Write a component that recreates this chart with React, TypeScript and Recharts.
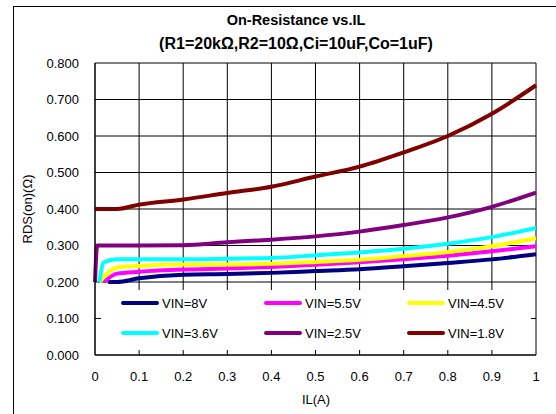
import { LineChart, Line, XAxis, YAxis, CartesianGrid, Legend } from 'recharts';

// load current IL (A) and on-resistance (ohm) per input voltage
const IL = [0, 0.005, 0.01, 0.02, 0.03, 0.05, 0.1, 0.2, 0.3, 0.4, 0.5, 0.6, 0.7, 0.8, 0.9, 1];
const VIN_8 = [null, null, null, null, 0.2, 0.2, 0.21, 0.22, 0.222, 0.225, 0.23, 0.235, 0.243, 0.252, 0.262, 0.276];
const VIN_5_5 = [null, null, null, 0.2, null, 0.223, 0.228, 0.234, 0.237, 0.241, 0.247, 0.254, 0.262, 0.272, 0.284, 0.298];
const VIN_4_5 = [null, null, 0.2, null, null, 0.24, 0.244, 0.248, 0.248, 0.25, 0.255, 0.261, 0.271, 0.282, 0.298, 0.32];
const VIN_3_6 = [null, null, 0.2, 0.254, null, 0.262, 0.262, 0.262, 0.264, 0.266, 0.273, 0.281, 0.291, 0.305, 0.323, 0.348];
const VIN_2_5 = [0.2, 0.3, null, null, null, 0.3, 0.3, 0.301, 0.309, 0.316, 0.325, 0.338, 0.356, 0.377, 0.406, 0.445];
const VIN_1_8 = [0.4, null, null, null, null, 0.4, 0.412, 0.426, 0.444, 0.461, 0.489, 0.516, 0.555, 0.6, 0.661, 0.739];

const X_TICKS = [0, 0.1, 0.2, 0.3, 0.4, 0.5, 0.6, 0.7, 0.8, 0.9, 1];
const Y_TICKS = [0, 0.1, 0.2, 0.3, 0.4, 0.5, 0.6, 0.7, 0.8];

const SERIES = [
  { key: 'v8', name: 'VIN=8V', color: '#000080', values: VIN_8 },
  { key: 'v55', name: 'VIN=5.5V', color: '#FF00FF', values: VIN_5_5 },
  { key: 'v45', name: 'VIN=4.5V', color: '#FFFF00', values: VIN_4_5 },
  { key: 'v36', name: 'VIN=3.6V', color: '#00FFFF', values: VIN_3_6 },
  { key: 'v25', name: 'VIN=2.5V', color: '#800080', values: VIN_2_5 },
  { key: 'v18', name: 'VIN=1.8V', color: '#800000', values: VIN_1_8 },
];

const data = IL.map((il, i) => {
  const row: Record<string, number | null> = { il };
  SERIES.forEach(s => { row[s.key] = s.values[i]; });
  return row;
});

const FONT = '"Liberation Sans", Arial, sans-serif';

function LegendBox() {
  const cols = [20, 163, 306];
  return (
    <div style={{ position: 'relative', width: 430, height: 60, background: '#fff', fontFamily: FONT, fontSize: 13 }}>
      {SERIES.map((s, i) => (
        <div key={s.key} style={{
          position: 'absolute', left: cols[i % 3], top: i < 3 ? 4 : 34,
          display: 'flex', alignItems: 'center', height: 18,
        }}>
          <span style={{ display: 'inline-block', width: 38, height: 4, background: s.color, borderRadius: 2 }} />
          <span style={{ marginLeft: 3, color: '#000' }}>{s.name}</span>
        </div>
      ))}
    </div>
  );
}

export default function App() {
  return (
    <div style={{ position: 'absolute', left: 0, top: 0, width: 556, height: 414, overflow: 'hidden', background: '#fff', fontFamily: FONT }}>
      <div style={{ position: 'absolute', left: 13, top: 6, width: 700, height: 600, border: '1px solid #000' }} />
      <div style={{ position: 'absolute', left: 96, width: 400, top: 11, textAlign: 'center', fontWeight: 'bold', fontSize: 14.5, lineHeight: '18px' }}>
        On-Resistance vs.IL
      </div>
      <div style={{ position: 'absolute', left: 96, width: 400, top: 35, textAlign: 'center', fontWeight: 'bold', fontSize: 16, lineHeight: '18px' }}>
        (R1=20kΩ,R2=10Ω,Ci=10uF,Co=1uF)
      </div>
      <div style={{ position: 'absolute', left: 0, top: 0 }}>
        <LineChart width={556} height={414} data={data} margin={{ top: 63, right: 20, bottom: 29, left: 35 }}>
          <CartesianGrid stroke="#000" strokeWidth={1} />
          <XAxis
            dataKey="il" type="number" domain={[0, 1]} ticks={X_TICKS}
            tickFormatter={(v: number) => String(v)}
            axisLine={{ stroke: '#000' }} tickLine={false} tickMargin={11} height={30}
            tick={{ fill: '#000', fontSize: 13, fontFamily: FONT }}
          />
          <YAxis
            type="number" domain={[0, 0.8]} ticks={Y_TICKS}
            tickFormatter={(v: number) => v.toFixed(3)}
            axisLine={{ stroke: '#000' }} tickLine={false} tickMargin={10} width={60}
            tick={{ fill: '#000', fontSize: 13, fontFamily: FONT }}
          />
          <Legend
            layout="horizontal" verticalAlign="middle" align="center"
            content={() => <LegendBox />}
            wrapperStyle={{ position: 'absolute', left: 101, top: 290, width: 430, height: 60 }}
          />
          {SERIES.map(s => (
            <Line
              key={s.key} type="monotone" dataKey={s.key} name={s.name}
              stroke={s.color} strokeWidth={4} dot={false} connectNulls
              isAnimationActive={false}
            />
          ))}
        </LineChart>
      </div>
      <div style={{ position: 'absolute', left: 27, top: 209, transform: 'translate(-50%, -50%) rotate(-90deg)', fontSize: 13, whiteSpace: 'nowrap' }}>
        RDS(on)(Ω)
      </div>
      <div style={{ position: 'absolute', left: 316, top: 399, transform: 'translate(-50%, -50%)', fontSize: 13, whiteSpace: 'nowrap' }}>
        IL(A)
      </div>
    </div>
  );
}
